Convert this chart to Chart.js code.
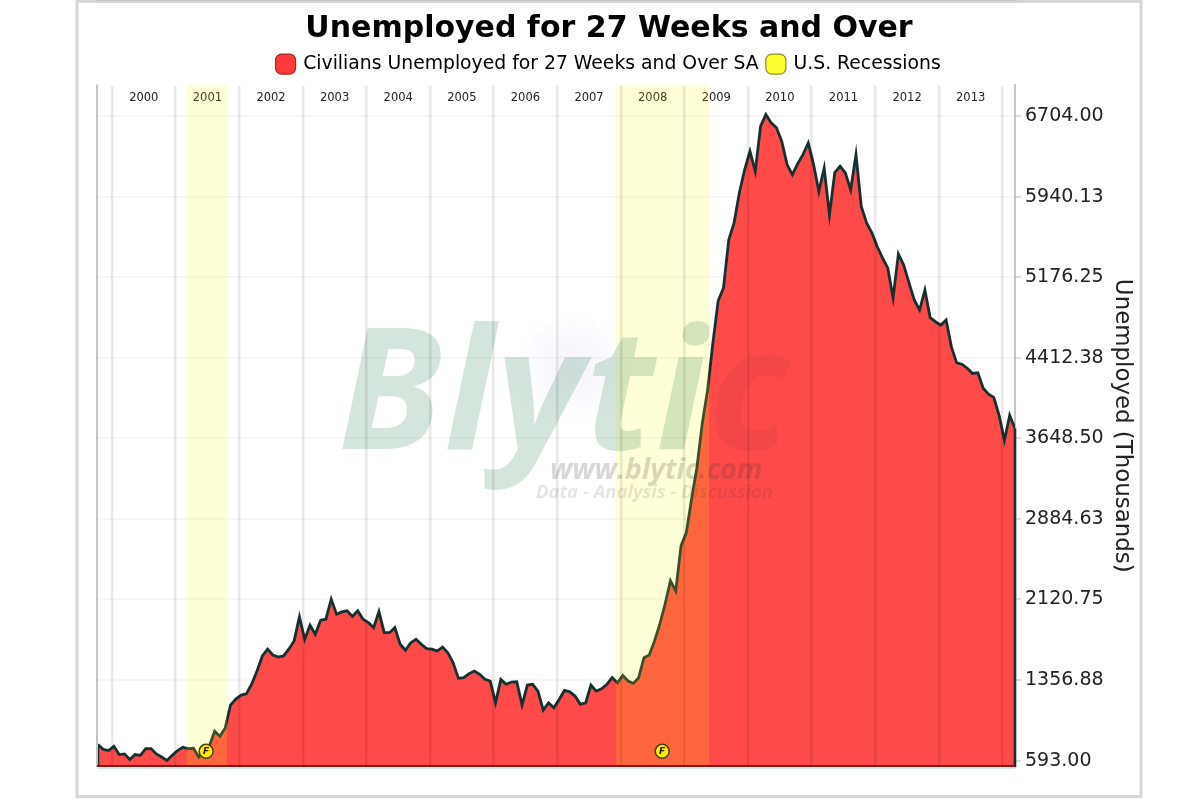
<!DOCTYPE html>
<html><head><meta charset="utf-8">
<style>html,body{margin:0;padding:0;background:#fff}#w{position:relative;width:1200px;height:799px}canvas{display:block;filter:blur(.45px)}</style>
<script src="https://cdn.jsdelivr.net/npm/chart.js@4/dist/chart.umd.min.js"></script>
</head><body><div id="w"><canvas id="c" width="1200" height="799"></canvas></div>
<script>
const chartTitle = 'Unemployed for 27 Weeks and Over';
const seriesName = 'Civilians Unemployed for 27 Weeks and Over SA';
const recessionName = 'U.S. Recessions';
const axisTitle = 'Unemployed (Thousands)';
const firstMonthX = 1999.78;           // Oct 1999
const unemployed = [745,698,688,729,650,656,603,650,643,707,707,656,627,593,643,688,719,707,710,627,
700,729,872,824,903,1119,1176,1214,1226,1319,1442,1585,1649,1594,1575,1585,1649,1728,1956,1744,
1877,1791,1924,1934,2124,1981,2003,2013,1959,2013,1934,1902,1854,2006,1806,1806,1854,1696,1639,1711,
1744,1696,1654,1649,1632,1670,1616,1521,1373,1379,1417,1442,1411,1363,1347,1141,1363,1316,1338,1340,
1119,1309,1316,1252,1071,1141,1093,1173,1259,1245,1205,1126,1141,1309,1252,1274,1316,1379,1331,1401,
1347,1325,1379,1569,1594,1728,1889,2079,2298,2203,2631,2757,3078,3376,3791,4105,4552,4954,5075,5532,
5693,5979,6197,6371,6181,6609,6720,6641,6594,6466,6245,6150,6254,6340,6451,6245,5991,6213,5769,6169,
6229,6166,6007,6340,5848,5693,5598,5468,5360,5265,4980,5398,5294,5123,4961,4866,5056,4793,4755,4723,
4771,4517,4365,4352,4314,4264,4270,4124,4067,4038,3867,3630,3867,3744];
const yTicks = [593,1356.875,2120.75,2884.625,3648.5,4412.375,5176.25,5940.125,6704];
const yMin = 532, yMax = 7005;
const years = [2000,2001,2002,2003,2004,2005,2006,2007,2008,2009,2010,2011,2012,2013,2014];
const yearLabels = ['2000','2001','2002','2003','2004','2005','2006','2007','2008','2009','2010','2011','2012','2013'];
const recessionStart = [2001.17,2007.92];
const recessionEnd = [2001.81,2009.39];
const flagX = [2001.48,2008.65];
const flagY = [681,681];

const monthStep = 1/12;
const seriesPoints = unemployed.map((v,i)=>({x:firstMonthX+i*monthStep,y:v}));
const recessionPoints = [];
recessionStart.forEach((s,i)=>{
  recessionPoints.push({x:s,y:yMax},{x:recessionEnd[i],y:yMax});
  if(i<recessionStart.length-1) recessionPoints.push({x:(recessionEnd[i]+recessionStart[i+1])/2,y:null});
});
const flagPoints = flagX.map((x,i)=>({x,y:flagY[i]}));

const framePlugin = {id:'frame',
  beforeDraw(c){const g=c.ctx;g.save();g.strokeStyle='#d6d6d6';g.lineWidth=3;g.strokeRect(77,1.5,1064,795);
    g.restore();},
  afterDatasetsDraw(c){
    const g=c.ctx,{x,y}=c.scales,a=c.chartArea;
    g.save();
    g.strokeStyle='#16302f';g.lineWidth=2.6;g.lineCap='butt';
    const f=seriesPoints[0],l=seriesPoints[seriesPoints.length-1];
    g.beginPath();g.moveTo(x.getPixelForValue(f.x),y.getPixelForValue(f.y));g.lineTo(x.getPixelForValue(f.x),a.bottom);
    g.moveTo(x.getPixelForValue(l.x),y.getPixelForValue(l.y));g.lineTo(x.getPixelForValue(l.x),a.bottom);g.stroke();
    g.strokeStyle='#7d1a1a';g.lineWidth=2;g.beginPath();g.moveTo(a.left,a.bottom-1);g.lineTo(x.getPixelForValue(l.x),a.bottom-1);g.stroke();
    g.strokeStyle='#bfe2e6';g.lineWidth=1.5;g.beginPath();g.moveTo(a.left,a.bottom+1);g.lineTo(a.right,a.bottom+1);g.stroke();
    g.strokeStyle='#c4c4c4';g.lineWidth=2;g.beginPath();g.moveTo(a.left-1,a.top);g.lineTo(a.left-1,a.bottom-2);g.stroke();
    const m=c.getDatasetMeta(2);
    g.fillStyle='#1a1a00';g.font='italic bold 9px "DejaVu Sans"';g.textAlign='center';g.textBaseline='middle';
    m.data.forEach(p=>g.fillText('F',p.x,p.y));
    g.textAlign='left';g.textBaseline='alphabetic';
    const glow=g.createRadialGradient(572,368,5,572,368,62);
    glow.addColorStop(0,'rgba(232,228,250,.4)');glow.addColorStop(1,'rgba(232,228,250,0)');
    g.fillStyle=glow;g.fillRect(500,300,150,150);
    const bx=338,by=449;
    g.font='italic bold 168px "Open Sans"';g.letterSpacing='2px';
    g.fillStyle='rgba(40,125,75,.2)';g.fillText('Blyti',bx,by);
    const w=g.measureText('Blyti').width;
    g.fillStyle='rgba(60,30,20,.065)';g.fillText('c',bx+w,by);
    g.letterSpacing='0px';
    g.fillStyle='rgba(60,50,50,.2)';g.font='italic bold 28.3px "Open Sans"';g.fillText('www.blytic.com',550,479);
    g.fillStyle='rgba(60,50,50,.13)';g.font='italic bold 18.5px "Open Sans"';g.fillText('Data - Analysis - Discussion',536,498);
    g.restore();
  }};

new Chart(document.getElementById('c'),{
  type:'line',
  data:{datasets:[
    {label:seriesName,data:seriesPoints,order:2,borderColor:'#16302f',borderWidth:2.8,backgroundColor:'#ff4a4a',fill:'start',pointRadius:0,tension:0,borderJoinStyle:'miter'},
    {label:recessionName,data:recessionPoints,order:1,borderWidth:0,borderColor:'transparent',backgroundColor:'rgba(255,255,0,.155)',fill:'start',pointRadius:0,tension:0,spanGaps:false},
    {label:'flags',data:flagPoints,order:0,showLine:false,pointRadius:7,pointBackgroundColor:'#ffe90a',pointBorderColor:'#4a4300',pointBorderWidth:1.6,fill:false}
  ]},
  options:{
    responsive:false,animation:false,
    layout:{padding:{left:98,right:80,top:10,bottom:32}},
    plugins:{
      tooltip:{enabled:false},
      title:{display:true,text:chartTitle,color:'#000',font:{family:'"DejaVu Sans"',size:30,weight:'bold',lineHeight:1.1},padding:{top:2.5,bottom:0.2}},
      legend:{display:true,position:'top',
        labels:{color:'#111',font:{family:'"DejaVu Sans"',size:18.8},usePointStyle:true,pointStyle:'rectRounded',boxWidth:16.5,boxHeight:16.5,padding:9,
          generateLabels(c){return [
            {text:seriesName,fillStyle:'#ff3a3a',strokeStyle:'#9c2a2a',lineWidth:1.2,pointStyle:'rectRounded',datasetIndex:0},
            {text:recessionName,fillStyle:'#ffff2e',strokeStyle:'#8c8c2a',lineWidth:1.2,pointStyle:'rectRounded',datasetIndex:1}];}
        }}
    },
    scales:{
      x:{type:'linear',position:'top',min:firstMonthX,max:firstMonthX+(unemployed.length-1)*monthStep,
        afterBuildTicks(s){
          const t=[];years.forEach(v=>t.push({value:v}));yearLabels.forEach(l=>t.push({value:+l+.5}));
          t.sort((a,b)=>a.value-b.value);s.ticks=t.filter(k=>k.value>=s.min&&k.value<=s.max);},
        afterFit(s){s.height=1;},
        grid:{z:1,drawTicks:false,lineWidth:2.5,color:ctx=>(ctx.tick&&ctx.tick.value%1===0)?'rgba(0,0,0,.09)':'rgba(0,0,0,0)'},
        border:{display:true,color:'#c4c4c4',width:2},
        ticks:{mirror:true,autoSkip:false,maxRotation:0,minRotation:0,color:'#222',padding:7,font:{family:'"DejaVu Sans"',size:11.5},
          callback:v=>(v%1===0)?'':String(Math.floor(v))}
      },
      y:{type:'linear',position:'right',min:yMin,max:yMax,
        afterBuildTicks(s){s.ticks=yTicks.map(v=>({value:v}));},
        afterFit(s){s.width=105;},
        grid:{color:'rgba(0,0,0,.035)',lineWidth:2,tickColor:'#ddd',tickLength:6,drawOnChartArea:true},
        border:{display:true,color:'#c4c4c4',width:2},
        ticks:{color:'#222',padding:4,font:{family:'"DejaVu Sans"',size:19},callback:v=>v.toFixed(2)},
        title:{display:true,text:axisTitle,color:'#222',font:{family:'"DejaVu Sans"',size:22.9},padding:{top:-15.8,bottom:0}}
      }
    }
  },
  plugins:[framePlugin]
});
</script></body></html>
